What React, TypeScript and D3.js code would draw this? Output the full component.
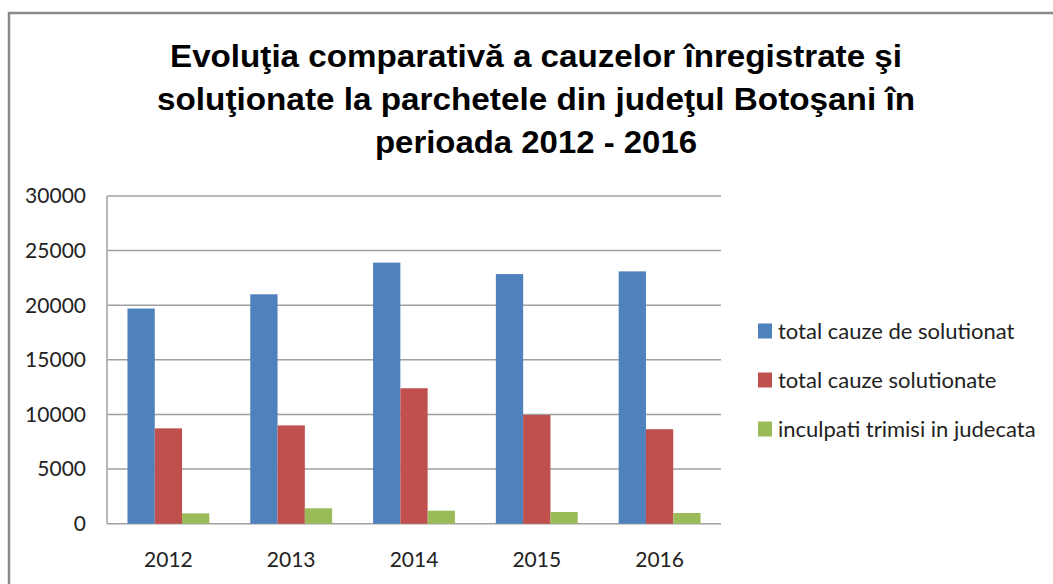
import React from "react";
import * as d3 from "d3";

const years = ["2012", "2013", "2014", "2015", "2016"];
const totalDeSolutionat = [19700, 21000, 23900, 22850, 23100];
const totalSolutionate = [8730, 9000, 12400, 9950, 8650];
const inculpatiTrimisi = [950, 1410, 1190, 1070, 980];
const seriesNames = [
  "total cauze de solutionat",
  "total cauze solutionate",
  "inculpati trimisi in judecata",
];
const seriesColors = ["#4F81BD", "#C0504D", "#9BBB59"];
const yTicks = [0, 5000, 10000, 15000, 20000, 25000, 30000];
const titleLines = [
  "Evoluţia comparativă a cauzelor înregistrate şi",
  "soluţionate la parchetele din judeţul Botoşani în",
  "perioada 2012 - 2016",
];

const W = 1053;
const H = 584;
const plot = { left: 107, right: 721, top: 196, bottom: 523.7 };

export default function App() {
  const series = [totalDeSolutionat, totalSolutionate, inculpatiTrimisi];
  const x0 = d3
    .scaleBand<string>()
    .domain(years)
    .range([plot.left, plot.right])
    .paddingInner(1.5 / 4.5)
    .paddingOuter(0.75 / 4.5);
  const x1 = d3
    .scaleBand<number>()
    .domain([0, 1, 2])
    .range([0, x0.bandwidth()]);
  const y = d3.scaleLinear().domain([0, 30000]).range([plot.bottom, plot.top]);
  const font = "Lato, 'Open Sans', sans-serif";
  const titleY = [67, 110, 153];
  const titleW = [732, 758, 322];
  const legendY = [331, 380, 429];

  return (
    <svg
      width={W}
      height={H}
      style={{ position: "absolute", left: 0, top: 0, background: "#fff" }}
    >
      <rect x={0} y={0} width={W} height={H} fill="#fff" />
      {/* chart frame */}
      <path d={`M9,${H + 5} L9,13 L${W + 5},13`} fill="none" stroke="#8a8a8a" strokeWidth={2.5} />

      {/* title */}
      {titleLines.map((t, i) => (
        <text
          key={i}
          x={536}
          y={titleY[i]}
          textAnchor="middle"
          fontFamily="'Liberation Sans', Arial, sans-serif"
          fontWeight="bold"
          fontSize={31}
          textLength={titleW[i]}
          lengthAdjust="spacingAndGlyphs"
          fill="#000"
        >
          {t}
        </text>
      ))}

      {/* gridlines */}
      {yTicks.map((v) => (
        <line
          key={v}
          x1={plot.left}
          x2={plot.right}
          y1={y(v)}
          y2={y(v)}
          stroke="#a0a0a0"
          strokeWidth={1.5}
        />
      ))}
      <line x1={plot.left} x2={plot.left} y1={plot.top} y2={plot.bottom} stroke="#a0a0a0" strokeWidth={1.5} />

      {/* y tick labels */}
      {yTicks.map((v) => (
        <text
          key={v}
          x={86}
          y={y(v)}
          dy="0.35em"
          textAnchor="end"
          fontFamily={font}
          fontSize={21}
          fill="#222"
        >
          {v}
        </text>
      ))}

      {/* bars */}
      {years.map((yr, i) => (
        <g key={yr}>
          {series.map((s, k) => (
            <rect
              key={k}
              x={(x0(yr) as number) + (x1(k) as number)}
              y={y(s[i])}
              width={x1.bandwidth()}
              height={plot.bottom - y(s[i])}
              fill={seriesColors[k]}
            />
          ))}
          <text
            x={(x0(yr) as number) + x0.bandwidth() / 2}
            y={567}
            textAnchor="middle"
            fontFamily={font}
            fontSize={21}
            fill="#222"
          >
            {yr}
          </text>
        </g>
      ))}

      {/* legend */}
      {seriesNames.map((n, k) => (
        <g key={n}>
          <rect x={758} y={legendY[k] - 7.5} width={14} height={15} fill={seriesColors[k]} />
          <text
            x={778}
            y={legendY[k]}
            dy="0.35em"
            fontFamily={font}
            fontSize={22}
            fill="#222"
          >
            {n}
          </text>
        </g>
      ))}
    </svg>
  );
}
